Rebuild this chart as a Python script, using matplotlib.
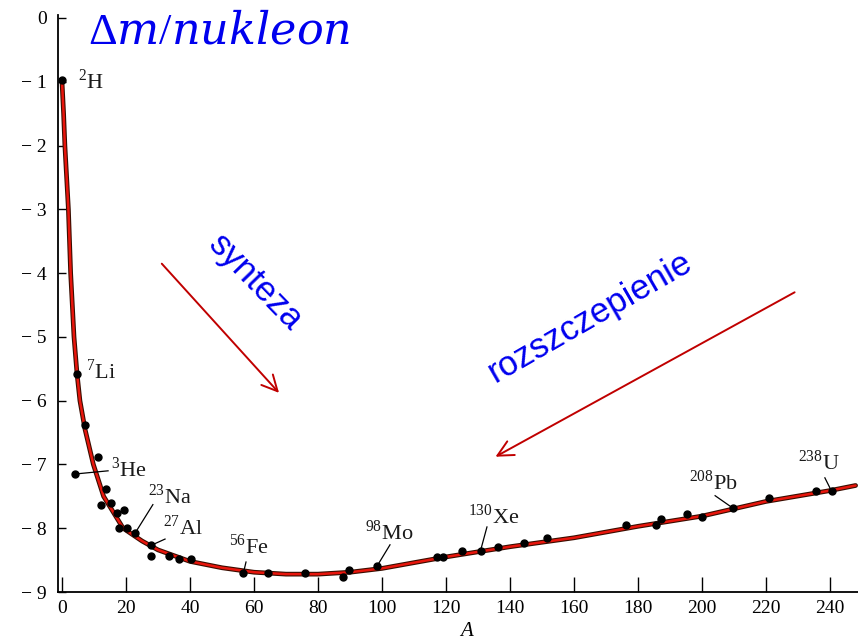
import matplotlib
matplotlib.use("Agg")
import matplotlib.pyplot as plt

plt.rcParams['font.family'] = ['Liberation Serif', 'DejaVu Serif']
plt.rcParams['mathtext.fontset'] = 'custom'
plt.rcParams['mathtext.rm'] = 'Liberation Serif'
plt.rcParams['mathtext.it'] = 'DejaVu Serif:italic'

# binding curve (mass defect per nucleon)
curve_A = [0.0, 0.5, 0.9, 2.0, 2.7, 3.75, 4.7, 5.6, 7.2, 9.8, 13, 19.1, 25, 30, 40,
           50, 60, 70, 80, 90, 100, 120, 140, 160, 180, 200, 220, 240, 248]
curve_v = [-1.0, -1.5, -2.0, -3.0, -4.0, -5.0, -5.58, -6.0, -6.45, -7.0, -7.5, -8.0,
           -8.2, -8.34, -8.52, -8.62, -8.69, -8.72, -8.72, -8.69, -8.63, -8.45, -8.29,
           -8.15, -7.97, -7.81, -7.58, -7.41, -7.33]

# measured nuclides
dots_A = [0.0, 4.7, 7.2, 11.3, 4.1, 13.75, 12.2, 15.3, 17.1, 19.5, 17.9, 20.4, 22.8,
          27.8, 27.8, 33.4, 36.7, 40.3, 56.7, 64.5, 75.9, 87.9, 89.7, 98.5, 117.1,
          119.2, 125.1, 130.8, 136.3, 144.5, 151.7, 176.1, 185.6, 187.2, 195.2, 200.1,
          209.8, 221.0, 235.6, 240.5]
dots_v = [-0.97, -5.58, -6.38, -6.88, -7.15, -7.39, -7.63, -7.60, -7.76, -7.71, -8.0,
          -8.0, -8.08, -8.27, -8.44, -8.44, -8.48, -8.48, -8.70, -8.70, -8.70, -8.76,
          -8.66, -8.59, -8.45, -8.45, -8.36, -8.35, -8.29, -8.23, -8.16, -7.95, -7.95,
          -7.86, -7.77, -7.82, -7.69, -7.52, -7.42, -7.42]

# labels: text, text position, leader line (from, to) or None
labels = [r'$^{2}$H', r'$^{7}$Li', r'$^{3}$He', r'$^{23}$Na', r'$^{27}$Al',
          r'$^{56}$Fe', r'$^{98}$Mo', r'$^{130}$Xe', r'$^{208}$Pb', r'$^{238}$U']
label_xy = [(5.0, -1.0), (7.5, -5.55), (15.3, -7.08), (26.9, -7.51), (31.6, -7.99),
            (52.2, -8.29), (94.7, -8.07), (126.9, -7.82), (195.9, -7.29), (230.0, -6.97)]
leaders = [None, None,
           ((4.1, -7.15), (14.4, -7.10)),
           ((22.8, -8.08), (28.4, -7.63)),
           ((27.8, -8.27), (32.2, -8.17)),
           ((56.7, -8.70), (57.5, -8.53)),
           ((98.5, -8.59), (102.5, -8.26)),
           ((130.8, -8.35), (132.8, -7.98)),
           ((209.8, -7.69), (204.1, -7.49)),
           ((240.5, -7.42), (238.4, -7.21))]

x_ticks = [0, 20, 40, 60, 80, 100, 120, 140, 160, 180, 200, 220, 240]
y_ticks = [0, -1, -2, -3, -4, -5, -6, -7, -8, -9]

fig = plt.figure(figsize=(8.58, 6.43), dpi=100)
ax = fig.add_axes([58/858, 51/643, 800/858, 577.2/643])

ax.plot(curve_A, curve_v, color='#3a0d00', lw=3.4, solid_capstyle='round', zorder=2)
ax.plot(curve_A, curve_v, color='#e8150c', lw=1.8, solid_capstyle='round', zorder=3)
ax.plot(dots_A, dots_v, 'o', color='black', ms=5, zorder=4)

for txt, (tx, ty), ld in zip(labels, label_xy, leaders):
    ax.text(tx, ty, txt, fontsize=16, ha='left', va='center', color='#1a1a1a')
    if ld is not None:
        ax.plot([ld[0][0], ld[1][0]], [ld[0][1], ld[1][1]], color='black', lw=0.9, zorder=4)

# arrows for fusion / fission
ax.annotate('', xy=(68.4, -5.91), xytext=(30.6, -3.82),
            arrowprops=dict(arrowstyle='->', color='#c00000', lw=1.4, mutation_scale=28))
ax.annotate('', xy=(134.7, -6.90), xytext=(229.7, -4.28),
            arrowprops=dict(arrowstyle='->', color='#c00000', lw=1.4, mutation_scale=28))
ax.text(60.6, -4.15, 'synteza', rotation=-46, fontsize=25, color='#0000ee',
        family='Liberation Sans', ha='center', va='center', rotation_mode='anchor')
ax.text(165, -4.69, 'rozszczepienie', rotation=30, fontsize=25, color='#0000ee',
        family='Liberation Sans', ha='center', va='center', rotation_mode='anchor')

ax.set_xlim(-1.25, 248.75)
ax.set_ylim(-9, 0.05)
ax.spines['top'].set_visible(False)
ax.spines['right'].set_visible(False)
ax.spines['left'].set_linewidth(1.3)
ax.spines['bottom'].set_linewidth(1.3)

ax.set_xticks(x_ticks)
ax.set_xticklabels([str(t) for t in x_ticks], fontsize=14)
ax.set_yticks(y_ticks)
ax.set_yticklabels(['0'] + ['\u2212 %d' % -t for t in y_ticks[1:]], fontsize=14)
ax.tick_params(axis='x', direction='in', length=11, width=1, pad=6)
ax.tick_params(axis='y', direction='in', length=6, width=1, pad=8)

fig.text(88/858, 1 - 33/643, r'$\Delta m/nukleon$', fontsize=32, color='#0000ee',
         ha='left', va='center')
fig.text(467/858, 1 - 641/643, 'A', fontsize=15, style='italic', ha='center', va='bottom')

fig.savefig('out.png', dpi=100)
